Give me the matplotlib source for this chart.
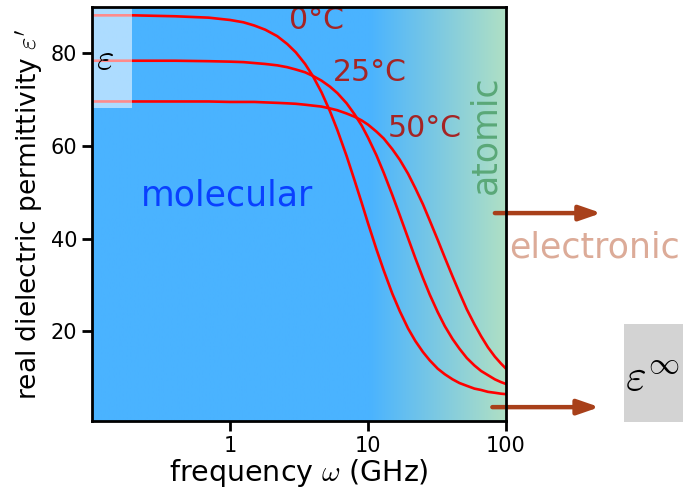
import numpy as np
from matplotlib import pyplot as plt
from matplotlib.patches import Rectangle

plt.rcParams['mathtext.fontset'] = 'cm'

# frequency grid (GHz) and permittivity
freq = [0.1, 0.2, 0.4, 0.7, 1, 1.25, 1.5, 1.8, 2.2, 2.6, 3, 3.5, 4, 4.6, 5.3,
        6, 7, 8, 9, 10, 11.5, 13, 15, 17, 19.5, 22, 25, 28, 32, 36, 41, 46,
        52, 59, 66, 74, 83, 92, 100]
eps_0C = [88.2, 88.2, 88.0, 87.7, 87.2, 86.7, 86.0, 85.1, 83.7, 82.0, 80.2,
          77.7, 75.0, 71.6, 67.5, 63.4, 57.8, 52.5, 47.7, 43.3, 37.7, 33.1,
          28.1, 24.3, 20.6, 17.9, 15.5, 13.7, 11.9, 10.7, 9.6, 8.8, 8.2, 7.6,
          7.3, 6.9, 6.7, 6.5, 6.4]
eps_25C = [78.4, 78.4, 78.4, 78.3, 78.2, 78.1, 77.9, 77.7, 77.4, 77.0, 76.5,
           75.9, 75.1, 74.1, 72.8, 71.4, 69.2, 66.8, 64.4, 61.8, 58.0, 54.2,
           49.4, 45.0, 40.1, 35.8, 31.5, 27.9, 24.1, 21.1, 18.3, 16.2, 14.2,
           12.6, 11.4, 10.5, 9.6, 9.0, 8.6]
eps_50C = [69.6, 69.6, 69.6, 69.6, 69.5, 69.5, 69.5, 69.4, 69.3, 69.2, 69.1,
           68.9, 68.7, 68.5, 68.1, 67.7, 67.0, 66.3, 65.5, 64.6, 63.1, 61.6,
           59.3, 57.0, 54.0, 50.9, 47.4, 43.9, 39.7, 35.9, 31.8, 28.3, 24.7,
           21.5, 18.9, 16.5, 14.5, 13.0, 11.9]
temp_labels = ['0°C', '25°C', '50°C']
temp_label_pos = [(4.2, 87.0), (10.3, 75.9), (25.9, 63.8)]

fig = plt.figure(figsize=(6.83, 4.93), dpi=100)
ax = fig.add_axes([0.1347, 0.146, 0.6062, 0.8398])
ax.set_xscale('log')
ax.set_xlim(0.1, 100)
ax.set_ylim(0.6, 90)

# blue -> pale green background gradient on the right side
blue = np.array([74, 179, 255]) / 255
green = np.array([176, 224, 196]) / 255
frac = np.linspace(0, 1, 600)
t = np.clip((frac - 0.67) / 0.33, 0, 1)[:, None]
grad = blue * (1 - t) + green * t
ax.imshow(grad[None, :, :], extent=[0, 1, 0, 1], transform=ax.transAxes,
          aspect='auto', zorder=0, interpolation='bilinear')

for eps in (eps_0C, eps_25C, eps_50C):
    ax.plot(freq, eps, color='red', lw=1.9, zorder=2)

for lab, (x, y) in zip(temp_labels, temp_label_pos):
    ax.text(x, y, lab, color='#a52424', fontsize=21.5, ha='center', va='center', zorder=4)

# static permittivity box
ax.add_patch(Rectangle((0.1, 68.1), 0.095, 22, facecolor='white', alpha=0.55,
                       edgecolor='none', zorder=3))
ax.text(0.124, 78.6, r'$\varepsilon$', fontsize=27, ha='center', va='center', zorder=4)

ax.text(0.95, 49.4, 'molecular', color='#0a40ff', fontsize=25, ha='center', va='center', zorder=4)
ax.text(70.5, 62.5, 'atomic', color='#5aa878', fontsize=25, rotation=90,
        ha='center', va='center', zorder=4)
ax.text(441, 38.1, 'electronic', color='#dcab98', fontsize=25, ha='center',
        va='center', clip_on=False)

arrow = dict(arrowstyle='-|>,head_length=1.3,head_width=0.45', lw=3.2, color='#a8401a',
             shrinkA=0, shrinkB=0)
ax.annotate('', xy=(490, 45.5), xytext=(83, 45.5), arrowprops=arrow, annotation_clip=False)
ax.annotate('', xy=(475, 3.6), xytext=(79.6, 3.6), arrowprops=arrow, annotation_clip=False)

# epsilon infinity box
fig.patches.append(Rectangle((0.9136, 0.144), 0.0864, 0.199, facecolor='#d3d3d3',
                             edgecolor='none', transform=fig.transFigure, figure=fig))
fig.text(0.956, 0.232, r'$\varepsilon^{\infty}$', fontsize=32, ha='center', va='center')

ax.set_xticks([1, 10, 100])
ax.set_xticklabels(['1', '10', '100'])
ax.xaxis.set_minor_locator(plt.NullLocator())
ax.set_yticks([20, 40, 60, 80])
ax.tick_params(labelsize=15, width=2, length=7)
for sp in ax.spines.values():
    sp.set_linewidth(2)
    sp.set_zorder(5)

ax.set_xlabel(r'frequency $\omega$ (GHz)', fontsize=20.5, labelpad=1)
ax.set_ylabel(r"real dielectric permittivity $\varepsilon'$", fontsize=19, labelpad=4)

fig.savefig('out.png', dpi=100)
